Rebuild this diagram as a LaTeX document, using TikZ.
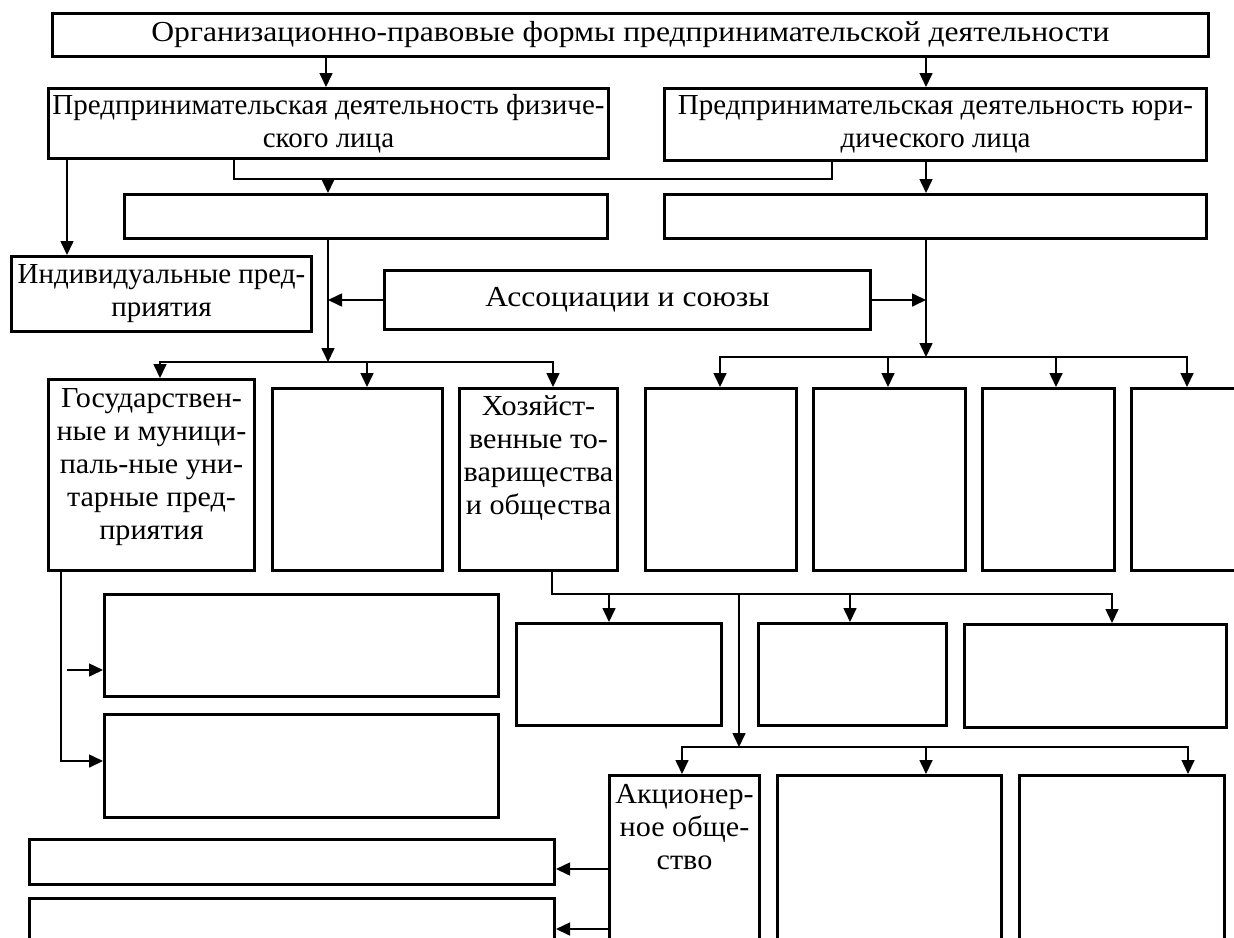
\documentclass[tikz,border=0pt]{standalone}
\usepackage{fontspec}
\setmainfont{Liberation Serif}
\newfontfamily\widefont[FakeStretch=1.09]{Liberation Serif}
\newfontfamily\midfont[FakeStretch=1.04]{Liberation Serif}
\newcommand\boxfont{\fontsize{14.5pt}{16.5pt}\selectfont}
\usetikzlibrary{arrows.meta}

\tikzset{
    formbox/.style 2 args={draw, line width=1.5pt, anchor=north west, inner sep=1pt,
        minimum width=#1, minimum height=#2, align=center, font=\boxfont},
    toptext/.style={anchor=north, align=center, inner sep=2pt, yshift=-3pt,
        font=\midfont\boxfont},
    conn/.style={line width=0.8pt},
    arr/.style={conn, -{Triangle[length=7pt,width=6.5pt]}}
}

\begin{document}
\begin{tikzpicture}[x=0.5pt,y=-0.5pt]
    \useasboundingbox (0,0) rectangle (1234,937);
    \clip (0,0) rectangle (1234,937);

    % Title and the two kinds of activity
    \node[formbox={578pt}{21.5pt}, font=\widefont\boxfont] (title) at (51,12)
        {Организационно-правовые формы предпринимательской деятельности};
    \node[formbox={280pt}{35pt}] (phys) at (47,87)
        {Предпринимательская деятельность физиче-\\ского лица};
    \node[formbox={271pt}{36pt}] (jur) at (663,87)
        {Предпринимательская деятельность юри-\\дического лица};
    \node[formbox={241.5pt}{22pt}] (emptyL) at (123,193) {};
    \node[formbox={271pt}{22pt}] (emptyR) at (663,193) {};

    \draw[arr] (title.south -| 326,0) -- (phys.north -| 326,0);
    \draw[arr] (title.south -| 926,0) -- (jur.north -| 926,0);
    \coordinate (join) at (328,179);
    \draw[conn] (phys.south -| 234,0) |- (join) -| (jur.south -| 832,0);
    \draw[arr] (join) -- (emptyL.north -| 328,0);
    \draw[arr] (jur.south -| 926,0) -- (emptyR.north -| 926,0);

    % Individual enterprises and associations
    \node[formbox={150pt}{37.5pt}] (indiv) at (10,255)
        {Индивидуальные пред-\\приятия};
    \node[formbox={243pt}{29.5pt}, font=\widefont\boxfont] (assoc) at (383,269)
        {Ассоциации и союзы};
    \draw[arr] (phys.south -| 67,0) -- (indiv.north -| 67,0);

    \coordinate (splitL) at (328,362);
    \coordinate (splitR) at (926,357);
    \draw[arr] (emptyL.south -| 328,0) -- (splitL);
    \draw[arr] (emptyR.south -| 926,0) -- (splitR);
    \draw[arr] (assoc.west) -- (assoc.west -| splitL);
    \draw[arr] (assoc.east) -- (assoc.east -| splitR);

    % Second row of forms
    \node[formbox={103pt}{95.5pt},
        label={[toptext]north:Государствен-\\ные и муници-\\паль-ные уни-\\тарные пред-\\приятия}]
        (gos) at (47,378) {};
    \node[formbox={85pt}{91pt}] (mid) at (271,387) {};
    \node[formbox={79pt}{91pt},
        label={[toptext, yshift=1pt]north:Хозяйст-\\венные то-\\варищества\\и общества}]
        (hoz) at (458,387) {};
    \node[formbox={75.5pt}{91pt}] (rA) at (644,387) {};
    \node[formbox={76pt}{91pt}] (rB) at (812,387) {};
    \node[formbox={66pt}{91pt}] (rC) at (981,387) {};
    \node[formbox={65pt}{91pt}] (rD) at (1130,387) {};

    \draw[arr] (splitL) -| (gos.north -| 160,0);
    \draw[arr] (splitL) -| (mid.north -| 367,0);
    \draw[arr] (splitL) -| (hoz.north -| 553,0);
    \draw[arr] (splitR) -| (rA.north -| 720,0);
    \draw[arr] (splitR) -| (rB.north -| 888,0);
    \draw[arr] (splitR) -| (rC.north -| 1056,0);
    \draw[arr] (splitR) -| (rD.north -| 1187,0);

    % Boxes under the unitary enterprises
    \node[formbox={197pt}{51pt}] (lowA) at (103,593) {};
    \node[formbox={197pt}{51.5pt}] (lowB) at (103,713) {};
    \coordinate (gosmid) at (67,670);
    \draw[arr] (gos.south -| 61,0) |- (lowB.west |- 0,761);
    \draw[arr] (gosmid) -- (lowA.west |- gosmid);

    % Kinds of partnerships and companies
    \node[formbox={102.5pt}{51pt}] (hA) at (515,622) {};
    \node[formbox={94pt}{51pt}] (hB) at (757,622) {};
    \node[formbox={131pt}{51.5pt}] (hC) at (963,623) {};
    \coordinate (hozbar) at (739,594);
    \coordinate (aobar) at (739,747);
    \draw[conn] (hoz.south -| 552,0) |- (hozbar);
    \draw[arr] (hozbar) -| (hA.north -| 609,0);
    \draw[arr] (hozbar) -| (hB.north -| 850,0);
    \draw[arr] (hozbar) -| (hC.north -| 1112,0);
    \draw[arr] (hozbar) -- (aobar);

    % Joint-stock company row
    \node[formbox={75pt}{103pt},
        label={[toptext]north:Акционер-\\ное обще-\\ство}]
        (ao) at (608,774) {};
    \node[formbox={112pt}{103pt}] (aoB) at (776,774) {};
    \node[formbox={102.5pt}{103pt}] (aoC) at (1018,774) {};
    \draw[arr] (aobar) -| (ao.north -| 682,0);
    \draw[arr] (aobar) -| (aoB.north -| 926,0);
    \draw[arr] (aobar) -| (aoC.north -| 1188,0);

    % Boxes at the bottom left
    \node[formbox={262.5pt}{22.5pt}] (botA) at (28,838) {};
    \node[formbox={262.5pt}{46.5pt}] (botB) at (28,897) {};
    \draw[arr] (ao.west |- 0,869) -- (botA.east |- 0,869);
    \draw[arr] (ao.west |- 0,929) -- (botB.east |- 0,929);

\end{tikzpicture}
\end{document}
